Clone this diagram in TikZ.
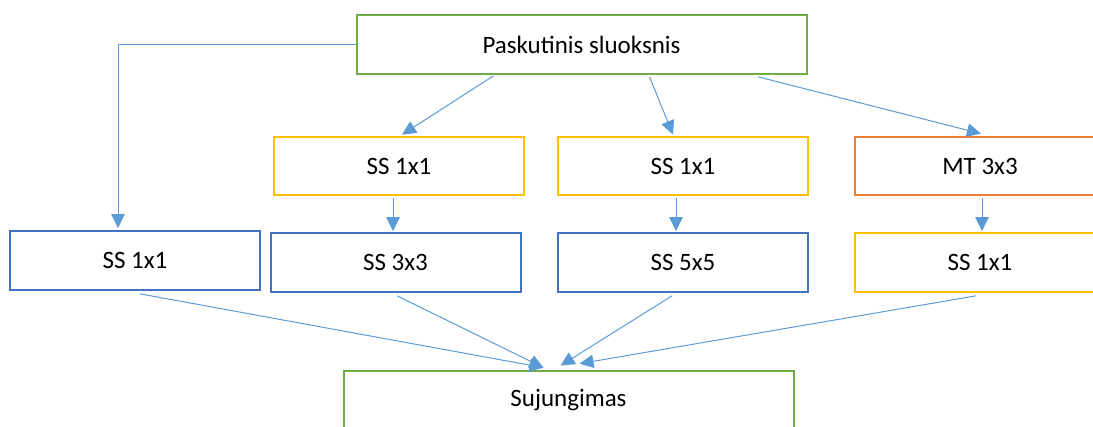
\documentclass[tikz,border=0pt]{standalone}
\usepackage{fontspec}
\setmainfont{Carlito}
\usetikzlibrary{arrows.meta, calc}
\definecolor{boxgreen}{RGB}{112,173,71}
\definecolor{boxyellow}{RGB}{255,192,0}
\definecolor{boxorange}{RGB}{237,125,49}
\definecolor{boxblue}{RGB}{68,114,196}
\definecolor{linkblue}{RGB}{91,155,213}

\begin{document}
\begin{tikzpicture}[x=0.75pt, y=-0.75pt,
  layer/.style={rectangle, draw=#1, line width=1.5pt, fill=white,
    minimum width=187.5pt, minimum height=44pt, inner sep=0pt,
    font=\fontsize{18.75}{22}\selectfont},
  wide/.style={minimum width=337.5pt},
  link/.style={linkblue, line width=0.75pt, -{Triangle[length=10.5pt,width=10pt]}}]
\clip (0,0) rectangle (1093,427);

% Top and bottom nodes
\node[layer=boxgreen, wide] (last) at (581.5,44.5) {Paskutinis sluoksnis};
\node[layer=boxgreen, wide] (concat) at (568.5,400) {Sujungimas};

% First row
\node[layer=boxyellow] (convA) at (399,166) {SS 1x1};
\node[layer=boxyellow] (convB) at (683,166) {SS 1x1};
\node[layer=boxorange] (pool) at (980,166) {MT 3x3};

% Second row
\node[layer=boxblue] (branchA) at (135,260.5) {SS 1x1};
\node[layer=boxblue] (branchB) at (395.5,262.5) {SS 3x3};
\node[layer=boxblue] (branchC) at (683,262.5) {SS 5x5};
\node[layer=boxyellow] (branchD) at (980,262.5) {SS 1x1};

% Connections from the last layer
\draw[link] (last.west) -| ($(branchA.north)+(-17,-2)$);
\draw[link] ($(last.south)+(-88,1)$) -- ($(convA.north)+(3,-1)$);
\draw[link] ($(last.south)+(68,2)$) -- ($(convB.north)+(-10,-1)$);
\draw[link] ($(last.south)+(176.5,2)$) -- ($(pool.north)+(1,-2)$);

% Inside the branches
\draw[link] ($(convA.south)+(-6,2)$) -- ($(branchB.north)+(-2.5,-1)$);
\draw[link] ($(convB.south)+(-7,2)$) -- ($(branchC.north)+(-7,-1)$);
\draw[link] ($(pool.south)+(2,2)$) -- ($(branchD.north)+(2,-1)$);

% Into the concatenation
\draw[link] ($(branchA.south)+(5,3)$) -- ($(concat.north)+(-25,-2)$);
\draw[link] ($(branchB.south)+(1.5,3)$) -- ($(concat.north)+(-25,-2)$);
\draw[link] ($(branchC.south)+(-11,3)$) -- ($(concat.north)+(-8,-4)$);
\draw[link] ($(branchD.south)+(-4,3)$) -- ($(concat.north)+(11,-6)$);
\end{tikzpicture}
\end{document}
